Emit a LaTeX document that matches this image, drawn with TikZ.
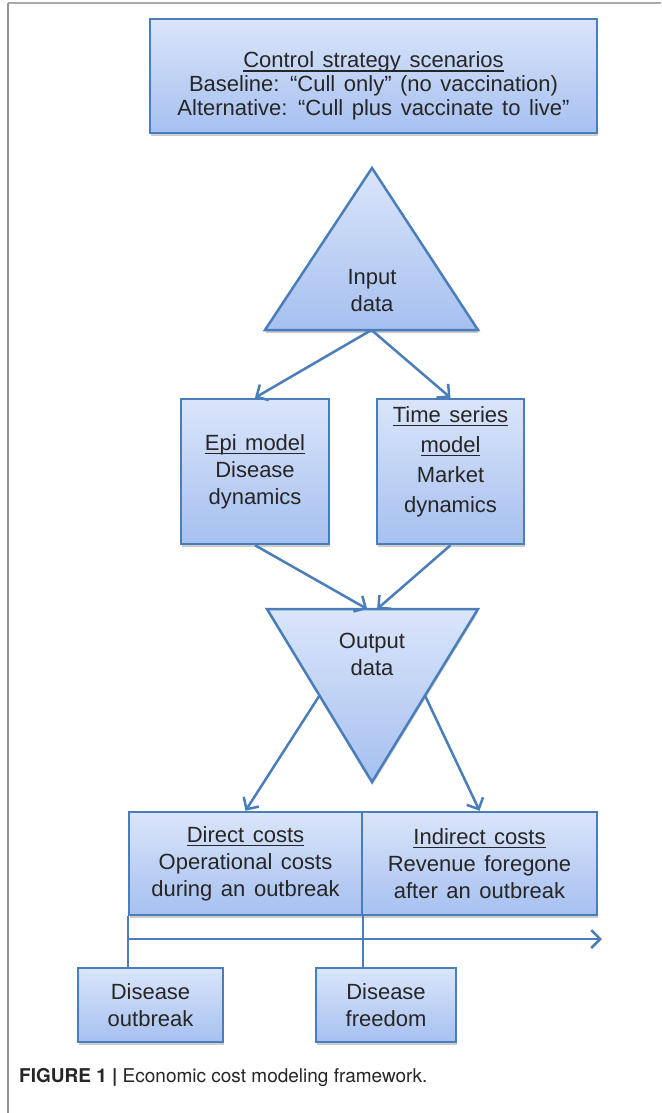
\documentclass[tikz,border=0pt]{standalone}
\usepackage{fontspec}
\setmainfont{Liberation Sans}[WordSpace=1.4]
\newfontfamily\capfont{TeX Gyre Heros}
\usetikzlibrary{arrows.meta,shadows,calc}

\definecolor{edgeblue}{HTML}{4A7EBB}
\definecolor{filltop}{HTML}{DAE5FA}
\definecolor{fillbot}{HTML}{A6C0F0}
\definecolor{ink}{HTML}{262626}
\definecolor{framegray}{HTML}{959595}

% underline with a fixed drop below the baseline
\newcommand{\undr}[1]{\leavevmode\vtop{\hbox{\raisebox{0pt}[\height][0pt]{#1}}\kern2.6pt\hrule height 1.3pt}}

\tikzset{
  boxshadow/.style={drop shadow={shadow xshift=0.5pt, shadow yshift=-3pt, opacity=0.28, fill=black!70}},
  box/.style={draw=edgeblue, line width=2.5pt, top color=filltop, bottom color=fillbot,
    boxshadow, align=center, text=ink, inner sep=0pt,
    font=\fontsize{22}{27}\selectfont},
  tri/.style={draw=edgeblue, line width=2.5pt, line join=miter, top color=filltop,
    bottom color=fillbot, boxshadow},
  txt/.style={align=center, text=ink, inner sep=0pt, font=\fontsize{22}{27}\selectfont},
  link/.style={draw=edgeblue, line width=2.5pt,
    -{Straight Barb[length=9pt,width=18pt,line width=2.5pt]}},
  wire/.style={draw=edgeblue, line width=2.3pt},
}

\begin{document}
\begin{tikzpicture}[x=1pt,y=-1pt]
\useasboundingbox (0,0) rectangle (661,1113);
\fill[white] (0,0) rectangle (661,1113);

% page frame
\draw[framegray!80, line width=2pt] (8,3) -- (661,3);
\draw[framegray, line width=2pt] (8,3) -- (8,1113);

% scenarios
\node[box, minimum width=447pt, minimum height=114pt, font=\fontsize{22}{24}\selectfont] (scen) at (373.5,76)
  {\rule{0pt}{36pt}\undr{Control strategy scenarios}\\Baseline: “Cull only” (no vaccination)\\Alternative: “Cull plus vaccinate to live”};

% input triangle
\coordinate (ia) at (372,168);
\coordinate (ibl) at (265,330);
\coordinate (ibr) at (478,330);
\path[tri] (ia) -- (ibr) -- (ibl) -- cycle;
\node[txt] (input) at (372,291) {Input\\data};
\coordinate (ibase) at ($(ibl)!0.5!(ibr)$);

% models
\node[box, minimum width=148pt, minimum height=145pt] (epi) at (255,471.5)
  {\undr{Epi model}\\Disease\\dynamics};
\node[box, minimum width=147pt, minimum height=145pt, font=\fontsize{22}{30}\selectfont] (ts) at (450.5,471.5)
  {\undr{Time series}\\\undr{model}\\Market\\dynamics\rule[-24pt]{0pt}{24pt}};

\draw[link] (ibase) -- (epi.north);
\draw[link] (ibase) -- (ts.north);

% output triangle
\coordinate (otl) at (267,609);
\coordinate (otr) at (478,609);
\coordinate (oap) at (372,782);
\path[tri] (otl) -- (otr) -- (oap) -- cycle;
\node[txt] (output) at (372,654) {Output\\data};

\draw[link] (epi.south) -- ($(otl)!0.475!(otr)$);
\draw[link] (ts.south) -- ($(otl)!0.522!(otr)$);

% cost boxes
\node[box, minimum width=233pt, minimum height=103pt] (direct) at (245.5,863.5)
  {\undr{Direct costs}\\Operational costs\\during an outbreak};
\node[box, minimum width=235pt, minimum height=103pt] (indirect) at (479.5,863.5)
  {\undr{Indirect costs}\\Revenue foregone\\after an outbreak};

\draw[link] ($(otl)!0.5!(oap)$) -- (direct.north);
\draw[link] ($(otr)!0.5!(oap)$) -- (indirect.north);

% time line
\node[box, minimum width=145pt, minimum height=74pt] (outbreak) at (150.5,1005)
  {Disease\\outbreak};
\node[box, minimum width=140pt, minimum height=74pt] (freedom) at (386,1005)
  {Disease\\freedom};

\coordinate (tend) at (602,939);
\draw[wire] (direct.south west) -- (direct.south west |- outbreak.north);
\draw[wire] (direct.south east) -- (direct.south east |- freedom.north);
\draw[link] (direct.south west |- tend) -- (tend);

% caption
\node[anchor=west, inner sep=0pt, text=ink, font=\capfont\fontsize{19}{22}\selectfont] (caption) at (19,1078)
  {\textbf{FIGURE 1 |} Economic cost modeling framework.};
\end{tikzpicture}
\end{document}
